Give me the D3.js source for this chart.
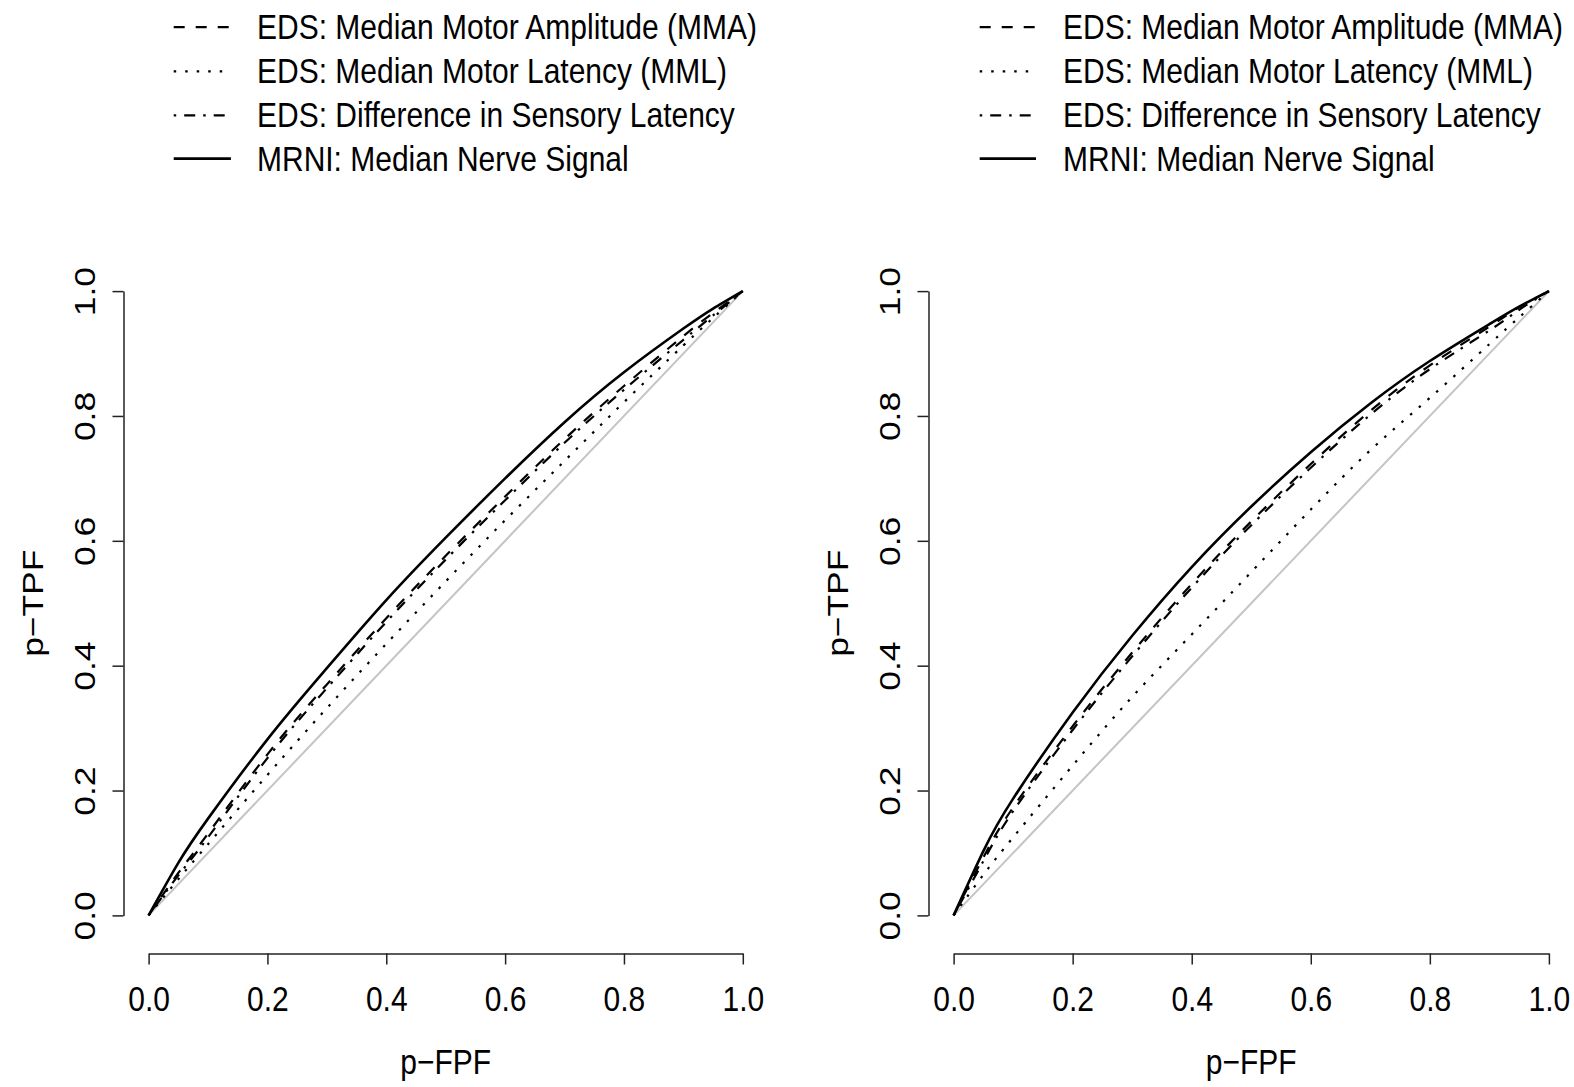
<!DOCTYPE html>
<html><head><meta charset="utf-8">
<script src="https://cdn.jsdelivr.net/npm/d3@7"></script>
<style>
body{margin:0;background:#fff}
svg text{font-family:"Liberation Sans",Arial,Helvetica,sans-serif;fill:#000}
</style>
</head><body>
<svg id="c" width="1574" height="1087"></svg>
<script>
// ---- data ----
const fprGrid = [0, 0.05, 0.1, 0.2, 0.3, 0.4, 0.5, 0.6, 0.7, 0.8, 0.9, 0.95, 1];

const leftMMA  = [0, 0.068, 0.131, 0.258, 0.370, 0.476, 0.576, 0.671, 0.763, 0.848, 0.928, 0.965, 1];
const leftMML  = [0, 0.058, 0.114, 0.225, 0.332, 0.435, 0.535, 0.633, 0.728, 0.822, 0.913, 0.957, 1];
const leftDSL  = [0, 0.064, 0.125, 0.252, 0.364, 0.470, 0.570, 0.665, 0.757, 0.842, 0.922, 0.961, 1];
const leftMRNI = [0, 0.084, 0.155, 0.282, 0.396, 0.505, 0.605, 0.700, 0.790, 0.870, 0.940, 0.972, 1];

const rightMMA  = [0, 0.093, 0.173, 0.303, 0.421, 0.531, 0.631, 0.723, 0.808, 0.881, 0.943, 0.974, 1];
const rightMML  = [0, 0.065, 0.125, 0.240, 0.350, 0.450, 0.550, 0.650, 0.745, 0.829, 0.915, 0.958, 1];
const rightDSL  = [0, 0.087, 0.167, 0.297, 0.415, 0.525, 0.625, 0.717, 0.802, 0.875, 0.937, 0.970, 1];
const rightMRNI = [0, 0.103, 0.187, 0.325, 0.448, 0.558, 0.655, 0.742, 0.820, 0.888, 0.947, 0.975, 1];

const seriesNames = ["EDS: Median Motor Amplitude (MMA)", "EDS: Median Motor Latency (MML)",
                     "EDS: Difference in Sensory Latency", "MRNI: Median Nerve Signal"];
const tickValues = [0, 0.2, 0.4, 0.6, 0.8, 1.0];
const tickLabels = ["0.0", "0.2", "0.4", "0.6", "0.8", "1.0"];
const xTitle = "p\u2212FPF";
const yTitle = "p\u2212TPF";

// ---- styles ----
const dashes = ["11,11", "2.5,9", "2.5,8,11,8", null];
const SY = 1.18;     // vertical stretch of text in the reference
const FS = 30;

const svg = d3.select("#c");
svg.append("rect").attr("width", 1574).attr("height", 1087).attr("fill", "#fff");

const panels = [
  {x0: 148.6, x1: 742.8, yAxisX: 123.5, yLabX: 95.4, yTitleX: 43, legLine: [173.7, 230.9], legText: 257,
   data: [leftMMA, leftMML, leftDSL, leftMRNI]},
  {x0: 953.6, x1: 1548.9, yAxisX: 928.5, yLabX: 900.4, yTitleX: 848, legLine: [979.7, 1036], legText: 1063,
   data: [rightMMA, rightMML, rightDSL, rightMRNI]}
];
const yBottom = 915.4, yTop = 291.1, xAxisY = 953.5;
const legendRows = [27.1, 71.3, 115.4, 158.6];

panels.forEach(p => {
  const x = d3.scaleLinear().domain([0, 1]).range([p.x0, p.x1]);
  const y = d3.scaleLinear().domain([0, 1]).range([yBottom, yTop]);
  const g = svg.append("g");

  // diagonal reference
  const diag = [0, 1];
  g.append("path").datum(diag)
    .attr("d", d3.line().x(d => x(d)).y(d => y(d)))
    .attr("stroke", "#c4c4c4").attr("stroke-width", 2).attr("fill", "none");

  // curves
  const line = d3.line().curve(d3.curveNatural).x((d, i) => x(fprGrid[i])).y(d => y(d));
  p.data.forEach((vals, k) => {
    g.append("path").datum(vals).attr("d", line)
      .attr("fill", "none").attr("stroke", "#000")
      .attr("stroke-width", k === 3 ? 2.6 : 2.2)
      .attr("stroke-dasharray", dashes[k]);
  });

  // x axis
  const ax = g.append("g").attr("transform", `translate(0,${xAxisY})`)
    .call(d3.axisBottom(x).tickValues(tickValues).tickFormat((d, i) => tickLabels[i]).tickSize(11).tickSizeOuter(0));
  ax.attr("font-size", FS).attr("font-family", null).attr("color", "#222");
  ax.selectAll("path,line").attr("stroke-width", 1.5);
  ax.selectAll("text").attr("y", null).attr("dy", null)
    .attr("transform", `translate(0,${1011 - xAxisY}) scale(1,${SY})`);

  // y axis
  const ay = g.append("g").attr("transform", `translate(${p.yAxisX},0)`)
    .call(d3.axisLeft(y).tickValues(tickValues).tickFormat((d, i) => tickLabels[i]).tickSize(11).tickSizeOuter(0));
  ay.attr("font-size", FS).attr("font-family", null).attr("color", "#222");
  ay.selectAll("path,line").attr("stroke-width", 1.5);
  ay.selectAll("text").attr("x", null).attr("dy", null).attr("text-anchor", "middle")
    .attr("transform", `translate(${p.yLabX - p.yAxisX},0) scale(1,${SY}) rotate(-90)`);

  // axis titles
  g.append("text").text(xTitle).attr("font-size", FS).attr("text-anchor", "middle")
    .attr("transform", `translate(${(p.x0 + p.x1) / 2},1074) scale(1,${SY})`);
  g.append("text").text(yTitle).attr("font-size", FS).attr("text-anchor", "middle")
    .attr("transform", `translate(${p.yTitleX},${(yBottom + yTop) / 2}) scale(1,${SY}) rotate(-90)`);

  // legend
  seriesNames.forEach((name, k) => {
    const cy = legendRows[k];
    g.append("line").attr("x1", p.legLine[0]).attr("x2", p.legLine[1]).attr("y1", cy).attr("y2", cy)
      .attr("stroke", "#000").attr("stroke-width", k === 3 ? 2.6 : 2.2).attr("stroke-dasharray", dashes[k]);
    g.append("text").text(name).attr("font-size", FS)
      .attr("transform", `translate(${p.legText},${cy + 12}) scale(1,${SY})`);
  });
});
</script>
</body></html>
